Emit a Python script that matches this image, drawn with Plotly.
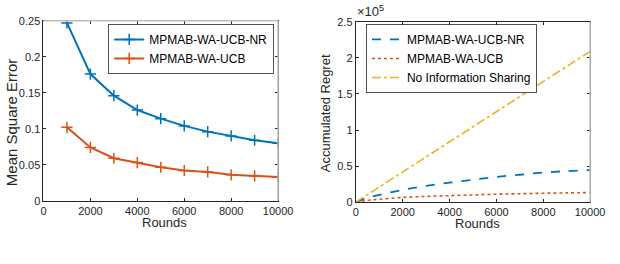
import plotly.graph_objects as go

# ---------------- data ----------------
rounds_mse = [1000, 2000, 3000, 4000, 5000, 6000, 7000, 8000, 9000, 10000]
mse_nr = [0.247, 0.176, 0.146, 0.126, 0.114, 0.104, 0.096, 0.090, 0.084, 0.080]
mse_wa = [0.102, 0.074, 0.059, 0.053, 0.0465, 0.042, 0.040, 0.036, 0.0345, 0.033]

rounds_reg = [0, 500, 1000, 2000, 3000, 4000, 5000, 6000, 7000, 8000, 9000, 10000]
reg_nr = [0, 6000, 10000, 17000, 22500, 27000, 31000, 35000, 38000, 41000, 43000, 44500]
reg_wa = [0, 2500, 4000, 6500, 8000, 9000, 10000, 11000, 11700, 12300, 12800, 13300]
reg_none = [0, 10500, 21000, 42000, 63000, 84000, 105000, 125500, 146500, 167000, 188000, 209000]

x_ticks = [0, 2000, 4000, 6000, 8000, 10000]
x_ticktext = ["0", "2000", "4000", "6000", "8000", "10000"]
mse_ticks = [0, 0.05, 0.1, 0.15, 0.2, 0.25]
mse_ticktext = ["0", "0.05", "0.1", "0.15", "0.2", "0.25"]
reg_ticks = [0, 50000, 100000, 150000, 200000, 250000]
reg_ticktext = ["0", "0.5", "1", "1.5", "2", "2.5"]

BLUE = "#0072BD"
RED = "#D95319"
YEL = "#EDB120"
INK = "#262626"
FONT = "Liberation Sans, Arial, Helvetica, sans-serif"

W, H = 620, 264

def px_x(p):
    return p / W

def px_y(p):
    return (H - p) / H

fig = go.Figure()

# left panel
fig.add_trace(go.Scatter(x=rounds_mse, y=mse_nr, mode="lines+markers", name="MPMAB-WA-UCB-NR",
                         line=dict(color=BLUE, width=2),
                         marker=dict(symbol="cross-thin", size=8, line=dict(color=BLUE, width=1.5)),
                         xaxis="x", yaxis="y", legend="legend"))
fig.add_trace(go.Scatter(x=rounds_mse, y=mse_wa, mode="lines+markers", name="MPMAB-WA-UCB",
                         line=dict(color=RED, width=2),
                         marker=dict(symbol="cross-thin", size=8, line=dict(color=RED, width=1.5)),
                         xaxis="x", yaxis="y", legend="legend"))

# right panel
fig.add_trace(go.Scatter(x=rounds_reg, y=reg_nr, mode="lines", name="MPMAB-WA-UCB-NR",
                         line=dict(color=BLUE, width=1.8, dash="dash", shape="spline"),
                         xaxis="x2", yaxis="y2", legend="legend2"))
fig.add_trace(go.Scatter(x=rounds_reg, y=reg_wa, mode="lines", name="MPMAB-WA-UCB",
                         line=dict(color=RED, width=1.6, dash="dot", shape="spline"),
                         xaxis="x2", yaxis="y2", legend="legend2"))
fig.add_trace(go.Scatter(x=rounds_reg, y=reg_none, mode="lines", name="No Information Sharing",
                         line=dict(color=YEL, width=1.6, dash="dashdot"),
                         xaxis="x2", yaxis="y2", legend="legend2"))

axis_common = dict(showgrid=False, zeroline=False, showline=True, linecolor=INK, linewidth=1,
                   mirror="ticks", ticks="inside", ticklen=3, tickcolor=INK, tickwidth=1,
                   tickfont=dict(family=FONT, size=11, color=INK))

fig.update_layout(
    width=W, height=H,
    margin=dict(l=0, r=0, t=0, b=0),
    paper_bgcolor="white", plot_bgcolor="white",
    font=dict(family=FONT, color=INK),
    xaxis=dict(domain=[px_x(41.7), px_x(283.3)], range=[0, 10000], tickvals=x_ticks,
               ticktext=x_ticktext, anchor="y", **axis_common),
    yaxis=dict(domain=[px_y(204), px_y(15.5)], range=[0, 0.25], tickvals=mse_ticks,
               ticktext=mse_ticktext, anchor="x", **axis_common),
    xaxis2=dict(domain=[px_x(363.3), px_x(604.7)], range=[0, 10000], tickvals=x_ticks,
                ticktext=x_ticktext, anchor="y2", **axis_common),
    yaxis2=dict(domain=[px_y(205.5), px_y(16.5)], range=[0, 250000], tickvals=reg_ticks,
                ticktext=reg_ticktext, anchor="x2", **axis_common),
    legend=dict(x=px_x(278.5), y=px_y(19), xanchor="right", yanchor="top",
                bgcolor="white", bordercolor=INK, borderwidth=0.8,
                font=dict(family=FONT, size=12, color="black"), itemwidth=30,
                tracegroupgap=0),
    legend2=dict(x=px_x(374), y=px_y(19), xanchor="left", yanchor="top",
                 bgcolor="white", bordercolor=INK, borderwidth=0.8,
                 font=dict(family=FONT, size=12, color="black"), itemwidth=30,
                 tracegroupgap=0),
    showlegend=True,
)

annots = [
    dict(text="Rounds", x=px_x(166), y=px_y(227), xref="paper", yref="paper",
         showarrow=False, font=dict(size=13, color=INK, family=FONT), xanchor="center", yanchor="middle"),
    dict(text="Rounds", x=px_x(489), y=px_y(228), xref="paper", yref="paper",
         showarrow=False, font=dict(size=13, color=INK, family=FONT), xanchor="center", yanchor="middle"),
    dict(text="Mean Square Error", x=px_x(9), y=px_y(122), xref="paper", yref="paper", textangle=-90,
         showarrow=False, font=dict(size=15, color=INK, family=FONT), xanchor="center", yanchor="middle"),
    dict(text="Accumulated Regret", x=px_x(333), y=px_y(112), xref="paper", yref="paper", textangle=-90,
         showarrow=False, font=dict(size=13, color=INK, family=FONT), xanchor="center", yanchor="middle"),
    dict(text="×10<sup>5</sup>", x=px_x(363), y=px_y(16), xref="paper", yref="paper",
         showarrow=False, font=dict(size=13, color=INK, family=FONT), xanchor="left", yanchor="bottom"),
]
fig.update_layout(annotations=annots)

# lighter top/right borders, as in the reference rendering
shapes = [
    dict(type="line", xref="x domain", yref="y domain", x0=0, x1=1, y0=1, y1=1,
         line=dict(color="#bdbdbd", width=1.5), layer="above"),
    dict(type="line", xref="x domain", yref="y domain", x0=1, x1=1, y0=0, y1=1,
         line=dict(color="#bdbdbd", width=1.5), layer="above"),
    dict(type="line", xref="x2 domain", yref="y2 domain", x0=1, x1=1, y0=0, y1=1,
         line=dict(color="#bdbdbd", width=1.5), layer="above"),
]
fig.update_layout(shapes=shapes)

fig.write_html(
    "out.html",
    config={"displayModeBar": False},
    post_script=(
        "document.documentElement.style.margin='0';"
        "document.documentElement.style.overflow='hidden';"
        "document.body.style.margin='0';"
        "document.body.style.padding='0';"
        "document.body.style.overflow='hidden';"
        "var gd=document.getElementById('{plot_id}');"
        "var vw=document.documentElement.clientWidth||window.innerWidth;"
        "var vh=document.documentElement.clientHeight||window.innerHeight;"
        "if(vw>300&&vh>100&&(vw!==620||vh!==264)){"
        "gd.style.width=vw+'px';gd.style.height=vh+'px';"
        "Plotly.relayout(gd,{width:vw,height:vh});}"
    ),
)
